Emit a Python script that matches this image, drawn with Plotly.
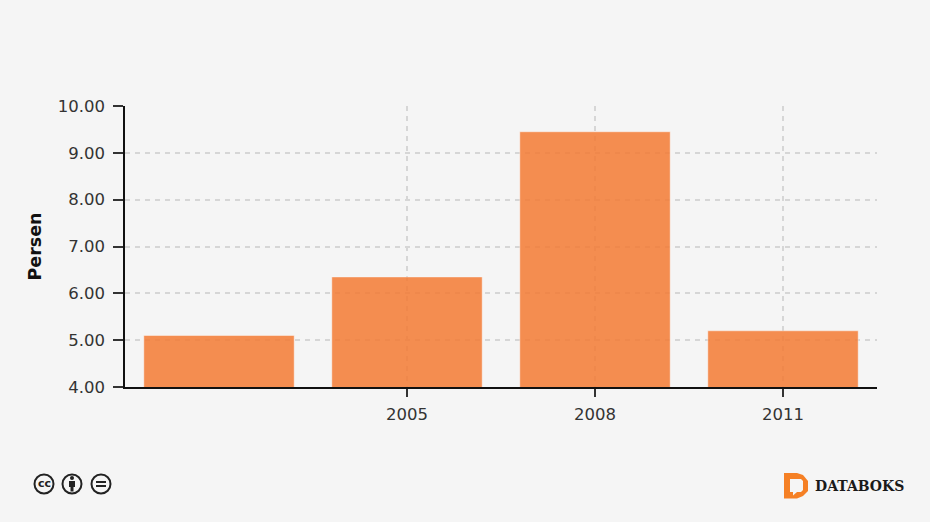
import plotly.graph_objects as go

years = [2002, 2005, 2008, 2011]
values = [5.1, 6.35, 9.45, 5.2]
x_ticks = [2005, 2008, 2011]
y_ticks = [4, 5, 6, 7, 8, 9, 10]

W, H = 930, 522
L, R, T, B = 125, 877, 106, 387


# paper coords are relative to the plot area, so convert from page pixels
def ppx(x):
    return (x - L) / (R - L)


def ppy(y):
    return (B - y) / (B - T)


def circle(cx, cy, r, **kw):
    return dict(type="circle", xref="paper", yref="paper",
                x0=ppx(cx - r), x1=ppx(cx + r), y0=ppy(cy - r), y1=ppy(cy + r), **kw)


def rect(x0, y0, x1, y1, color):
    return dict(type="rect", xref="paper", yref="paper", x0=ppx(x0), x1=ppx(x1),
                y0=ppy(y0), y1=ppy(y1), fillcolor=color, line=dict(width=0))


def path(points, color):
    d = "M " + " L ".join(f"{ppx(a)},{ppy(b)}" for a, b in points) + " Z"
    return dict(type="path", xref="paper", yref="paper", path=d, fillcolor=color, line=dict(width=0))


fig = go.Figure()
fig.add_trace(go.Bar(
    x=years, y=values, width=2.4,
    marker=dict(color="#F47C36", opacity=0.86, line=dict(color="rgba(255,255,255,0.45)", width=1)),
))

shapes = []
# cc icons
for cx in [44, 72, 101]:
    shapes.append(circle(cx, 484, 9.5, line=dict(color="#222", width=2), fillcolor="#f5f5f5"))
# person
shapes.append(circle(72, 478, 2, fillcolor="#222", line=dict(width=0)))
shapes.append(rect(69, 481, 75, 487, "#222"))
shapes.append(rect(70.5, 487, 73.5, 491.5, "#222"))
# equals
shapes.append(rect(96, 481, 106, 483, "#222"))
shapes.append(rect(96, 485, 106, 487, "#222"))
# logo D with speech bubble
shapes.append(path([(784, 473), (797, 473), (803, 475), (808, 481), (808, 491),
                    (803, 496), (797, 498.5), (784, 498.5)], "#F58025"))
shapes.append(path([(790, 479), (801, 479), (803, 481), (803, 490), (801, 492),
                    (797, 492), (793, 495.5), (793, 492), (790, 492)], "#f5f5f5"))

annotations = [
    dict(text="<b>cc</b>", xref="paper", yref="paper", x=ppx(44), y=ppy(484), xanchor="center", yanchor="middle",
         showarrow=False, font=dict(family="DejaVu Sans", size=11, color="#222")),
    dict(text="<b>DATABOKS</b>", xref="paper", yref="paper", x=ppx(813), y=ppy(485.5), xanchor="left", yanchor="middle",
         showarrow=False, font=dict(family="DejaVu Serif", size=14, color="#1a1a1a")),
    dict(text="<b>Persen</b>", xref="paper", yref="paper", x=ppx(34), y=ppy(246.5), xanchor="center", yanchor="middle",
         textangle=-90, showarrow=False, font=dict(family="DejaVu Sans", size=17.5, color="#111")),
]

fig.update_layout(
    width=W, height=H,
    margin=dict(l=L, r=W - R, t=T, b=H - B, pad=0),
    paper_bgcolor="#f5f5f5", plot_bgcolor="#f5f5f5",
    showlegend=False,
    font=dict(family="DejaVu Sans", size=16.5, color="#333"),
    shapes=shapes, annotations=annotations,
)
fig.update_xaxes(
    range=[2000.5, 2012.5], tickmode="array", tickvals=x_ticks, ticktext=[str(v) for v in x_ticks],
    showgrid=True, gridcolor="#d6d6d6", griddash="5px,5px", gridwidth=1.5,
    showline=True, linecolor="#111", linewidth=1.5,
    ticks="outside", ticklen=8, tickcolor="#333", tickwidth=1.5, zeroline=False, ticklabelstandoff=3,
)
fig.update_yaxes(
    range=[4, 10], tickmode="array", tickvals=y_ticks, ticktext=[f"{v:.2f}" for v in y_ticks],
    showgrid=True, gridcolor="#d6d6d6", griddash="5px,5px", gridwidth=1.5,
    showline=True, linecolor="#111", linewidth=1.5,
    ticks="outside", ticklen=10, tickcolor="#333", tickwidth=1.5, zeroline=False, ticklabelstandoff=5,
)

fig.write_html("out.html", config=dict(displayModeBar=False),
               post_script="document.body.style.margin='0';document.body.style.background='#f5f5f5';")
